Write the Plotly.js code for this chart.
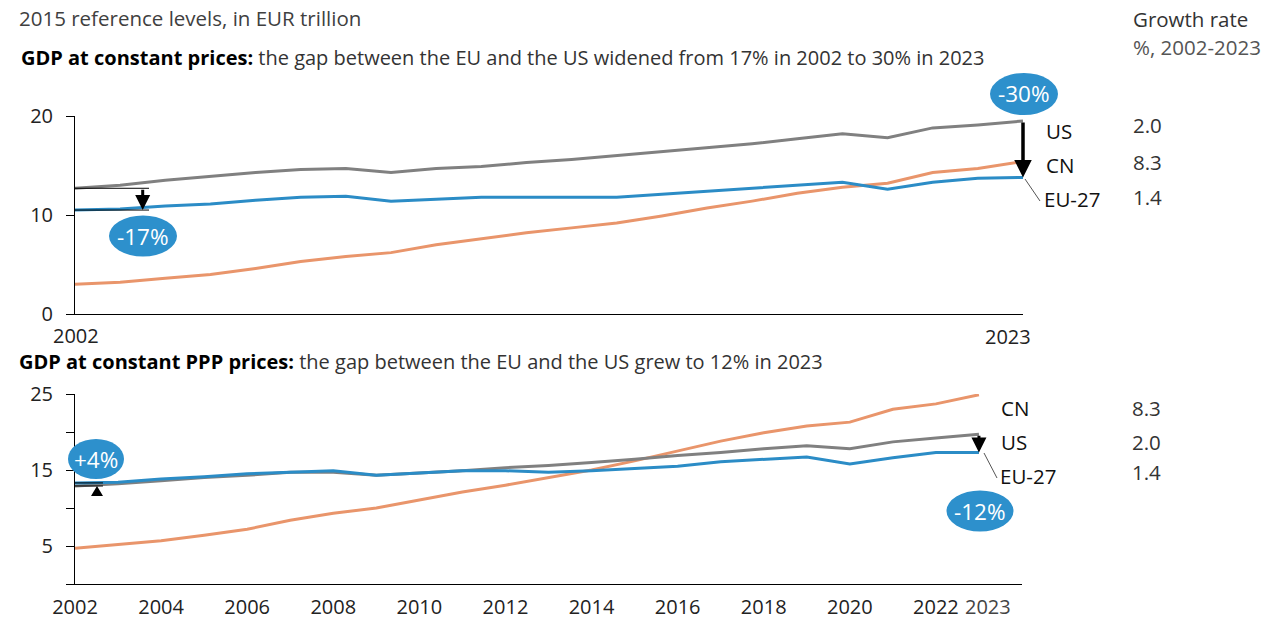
<!DOCTYPE html>
<html>
<head>
<meta charset="utf-8">
<script src="https://cdn.plot.ly/plotly-3.0.1.min.js"></script>
<style>html,body{margin:0;padding:0;background:#fff;}#chart{width:1280px;height:628px;}</style>
</head>
<body>
<div id="chart"></div>
<script>
// ---------- DATA ----------
const years = [2002,2003,2004,2005,2006,2007,2008,2009,2010,2011,2012,2013,2014,2015,2016,2017,2018,2019,2020,2021,2022,2023];

// GDP at constant prices (EUR trillion, 2015 reference levels)
const usConst = [12.7,13.0,13.5,13.9,14.3,14.6,14.7,14.3,14.7,14.9,15.3,15.6,16.0,16.4,16.8,17.2,17.7,18.2,17.8,18.8,19.1,19.5];
const euConst = [10.5,10.6,10.9,11.1,11.5,11.8,11.9,11.4,11.6,11.8,11.8,11.8,11.8,12.1,12.4,12.7,13.0,13.3,12.6,13.3,13.7,13.8];
const cnConst = [3.0,3.2,3.6,4.0,4.6,5.3,5.8,6.2,7.0,7.6,8.2,8.7,9.2,9.9,10.7,11.4,12.2,12.8,13.2,14.3,14.7,15.4];

// GDP at constant PPP prices
const usPPP = [12.9,13.2,13.6,14.0,14.3,14.7,14.7,14.3,14.6,14.9,15.3,15.6,16.0,16.4,16.9,17.3,17.8,18.2,17.8,18.7,19.2,19.7];
const euPPP = [13.3,13.4,13.8,14.1,14.5,14.7,14.9,14.3,14.6,14.9,14.9,14.7,14.9,15.2,15.5,16.1,16.4,16.7,15.8,16.6,17.3,17.3];
const cnPPP = [4.7,5.2,5.7,6.4,7.2,8.4,9.3,10.0,11.1,12.1,13.0,14.0,15.0,16.2,17.5,18.8,19.9,20.8,21.3,23.0,23.7,24.9];

// Labels and growth rates (%, 2002-2023)
const topLabels = ["US","CN","EU-27"];
const topGrowth = ["2.0","8.3","1.4"];
const botLabels = ["CN","US","EU-27"];
const botGrowth = ["8.3","2.0","1.4"];
const gapTexts = ["-17%","-30%","+4%","-12%"];

const topXTicks = ["2002","2023"];
const botXTickVals = [2002,2004,2006,2008,2010,2012,2014,2016,2018,2020,2022];
const botXTickText = ["2002","2004","2006","2008","2010","2012","2014","2016","2018","2020","2022"];
const topYTicks = [0,10,20];
const botYTickVals = [0,5,10,15,20,25];
const botYTickText = ["","5","","15","","25"];

// ---------- STYLE ----------
const W = 1280, H = 628;
const px = x => x / W;
const py = y => 1 - y / H;
const FONT = "'Open Sans', Lato, sans-serif";
const C_US = "#808080", C_EU = "#2b8cc6", C_CN = "#e9956b", C_BUB = "#2d90cc";

function line(x, y, color, xa, ya) {
  return {x: x, y: y, type: "scatter", mode: "lines", xaxis: xa, yaxis: ya,
          line: {color: color, width: 3}, hoverinfo: "skip"};
}

const data = [
  line(years, cnConst, C_CN, "x", "y"),
  line(years, usConst, C_US, "x", "y"),
  line(years, euConst, C_EU, "x", "y"),
  line(years, cnPPP, C_CN, "x2", "y2"),
  line(years, usPPP, C_US, "x2", "y2"),
  line(years, euPPP, C_EU, "x2", "y2")
];

function txt(text, x, y, opts) {
  return Object.assign({text: text, x: px(x), y: py(y), xref: "paper", yref: "paper",
    xanchor: "left", yanchor: "middle", showarrow: false,
    font: {family: FONT, size: 20.5, color: "#333"}}, opts || {});
}
function bubble(cx, cy, w, h) {
  return {type: "circle", xref: "paper", yref: "paper",
    x0: px(cx - w / 2), x1: px(cx + w / 2), y0: py(cy + h / 2), y1: py(cy - h / 2),
    fillcolor: C_BUB, line: {width: 0}, layer: "above"};
}
function bubbleText(t, cx, cy) {
  return txt(t, cx, cy, {xanchor: "center", font: {family: FONT, size: 22.5, color: "#fff"}});
}

const last = years.length - 1;
const lblFont = {family: FONT, size: 20.5, color: "#111"};
const annotations = [
  txt("2015 reference levels, in EUR trillion", 17, 18, {font: {family: FONT, size: 20.5, color: "#404040"}}),
  txt("<span style='color:#000'><b>GDP at constant prices:</b></span> the gap between the EU and the US widened from 17% in 2002 to 30% in 2023", 19, 57, {font: {family: FONT, size: 20, color: "#333"}}),
  txt("<span style='color:#000'><b>GDP at constant PPP prices:</b></span> the gap between the EU and the US grew to 12% in 2023", 17, 361, {font: {family: FONT, size: 20, color: "#333"}}),
  txt("Growth rate", 1131, 19, {font: {family: FONT, size: 20.5, color: "#333"}}),
  txt("%, 2002-2023", 1131, 47, {font: {family: FONT, size: 20.5, color: "#555"}}),
  // top x labels
  txt(topXTicks[0], 76, 335, {xanchor: "center", font: {family: FONT, size: 20, color: "#222"}}),
  txt(topXTicks[1], 1008, 336, {xanchor: "center", font: {family: FONT, size: 20, color: "#222"}}),
  // bottom extra x label
  txt("2023", 988, 606, {xanchor: "center", font: {family: FONT, size: 20, color: "#444"}}),
  // right labels top
  txt(topLabels[0], 1044, 131, {font: lblFont}),
  txt(topLabels[1], 1044, 165, {font: lblFont}),
  txt(topLabels[2], 1042, 199, {font: lblFont}),
  txt(topGrowth[0], 1131, 125),
  txt(topGrowth[1], 1131, 162),
  txt(topGrowth[2], 1131, 197),
  // right labels bottom
  txt(botLabels[0], 999, 408, {font: lblFont}),
  txt(botLabels[1], 999, 442, {font: lblFont}),
  txt(botLabels[2], 998, 476, {font: lblFont}),
  txt(botGrowth[0], 1130, 408),
  txt(botGrowth[1], 1130, 442),
  txt(botGrowth[2], 1130, 472),
  // bubble texts
  bubbleText(gapTexts[0], 143, 236),
  bubbleText(gapTexts[1], 1024, 94),
  bubbleText(gapTexts[2], 96, 459),
  bubbleText(gapTexts[3], 980, 511),
  // gap arrows
  {xref: "x", yref: "y", axref: "x", ayref: "y", x: years[last], y: euConst[last], ax: years[last], ay: usConst[last],
   text: "", showarrow: true, arrowhead: 2, arrowsize: 1, arrowwidth: 3.5, arrowcolor: "#000", standoff: 0},
  {xref: "x", yref: "y", axref: "x", ayref: "y", x: 2003.5, y: euConst[0], ax: 2003.5, ay: usConst[0],
   text: "", showarrow: true, arrowhead: 2, arrowsize: 1, arrowwidth: 3, arrowcolor: "#000", standoff: 0},
  {xref: "x2", yref: "y2", axref: "x2", ayref: "y2", x: years[last], y: euPPP[last], ax: years[last], ay: usPPP[last],
   text: "", showarrow: true, arrowhead: 2, arrowsize: 1, arrowwidth: 3, arrowcolor: "#000", standoff: 0}
];

const shapes = [
  bubble(143, 236, 68, 41),
  bubble(1024, 94, 68, 42),
  bubble(96, 459, 56, 40),
  bubble(980, 511, 67, 41),
  // gap reference lines (top-left)
  {type: "line", xref: "x", yref: "y", x0: years[0], x1: 2003.64, y0: usConst[0], y1: usConst[0], line: {color: "#000", width: 1}},
  {type: "line", xref: "x", yref: "y", x0: years[0], x1: 2003.64, y0: euConst[0], y1: euConst[0], line: {color: "#000", width: 1}},
  // gap reference lines (bottom-left)
  {type: "line", xref: "x2", yref: "y2", x0: years[0], x1: 2002.65, y0: usPPP[0], y1: usPPP[0], line: {color: "#000", width: 1}},
  {type: "line", xref: "x2", yref: "y2", x0: years[0], x1: 2002.65, y0: euPPP[0], y1: euPPP[0], line: {color: "#000", width: 1}},
  // small up-triangle
  {type: "path", xref: "paper", yref: "paper",
   path: "M " + px(91) + "," + py(496) + " L " + px(103) + "," + py(496) + " L " + px(97) + "," + py(486) + " Z",
   fillcolor: "#000", line: {width: 0}},
  // leader lines
  {type: "line", xref: "paper", yref: "paper", x0: px(1025), y0: py(179), x1: px(1040), y1: py(201), line: {color: "#555", width: 1}},
  {type: "line", xref: "paper", yref: "paper", x0: px(984), y0: py(453), x1: px(997), y1: py(478), line: {color: "#555", width: 1}}
];

const axisFont = {family: FONT, size: 20, color: "#222"};
const layout = {
  width: W, height: H,
  margin: {l: 0, r: 0, t: 0, b: 0},
  paper_bgcolor: "#fff", plot_bgcolor: "#fff",
  showlegend: false,
  font: {family: FONT},
  xaxis: {domain: [px(75), px(1023)], range: [2002, 2023], anchor: "y",
          showline: true, linecolor: "#000", linewidth: 1, showgrid: false, zeroline: false,
          showticklabels: false, ticks: ""},
  yaxis: {domain: [py(314), py(116)], range: [0, 20], anchor: "x",
          tickvals: topYTicks, ticks: "outside", ticklen: 8, tickcolor: "#000",
          showline: true, linecolor: "#000", linewidth: 1, showgrid: false, zeroline: false,
          tickfont: axisFont, ticklabelstandoff: 9},
  xaxis2: {domain: [px(75), px(1022)], range: [2002, 2024], anchor: "y2",
           tickvals: botXTickVals, ticktext: botXTickText, ticks: "",
           showline: true, linecolor: "#000", linewidth: 1, showgrid: false, zeroline: false,
           tickfont: axisFont, ticklabelstandoff: 5},
  yaxis2: {domain: [py(584), py(394)], range: [0, 25], anchor: "x2",
           tickvals: botYTickVals, ticktext: botYTickText, ticks: "outside", ticklen: 8, tickcolor: "#000",
           showline: true, linecolor: "#000", linewidth: 1, showgrid: false, zeroline: false,
           tickfont: axisFont, ticklabelstandoff: 9},
  annotations: annotations,
  shapes: shapes
};

Plotly.newPlot("chart", data, layout, {staticPlot: true, displayModeBar: false});
</script>
</body>
</html>
